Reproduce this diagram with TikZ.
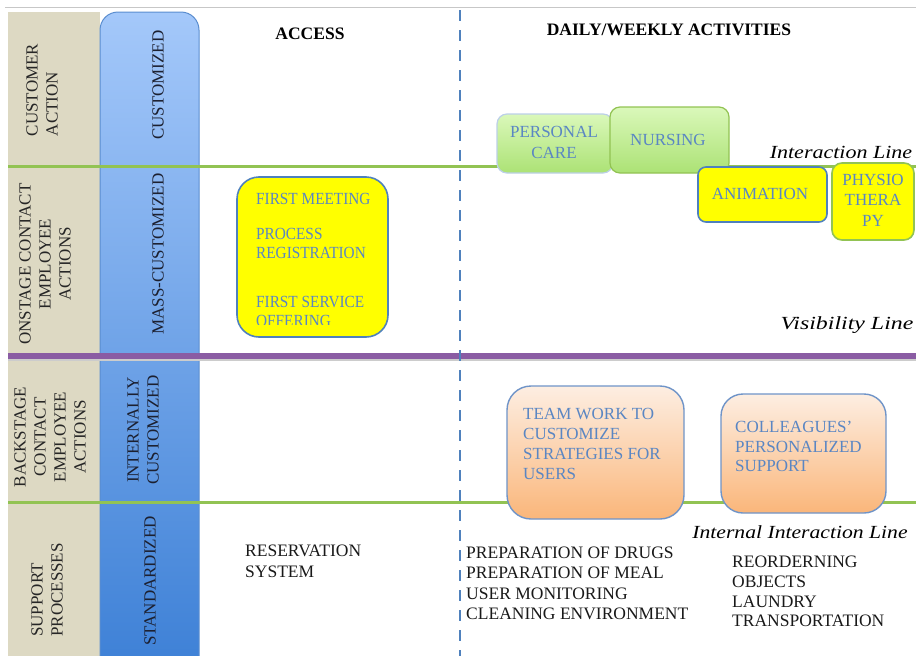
\documentclass[tikz,border=0pt]{standalone}
\usepackage{fontspec}
\setmainfont{Liberation Serif}
\newcommand\setpx[2]{\fontsize{#1}{#2}\selectfont}
\definecolor{beige}{HTML}{DDD9C3}
\definecolor{colTop}{HTML}{A4C8FA}
\definecolor{colBot}{HTML}{3A7ED5}
\definecolor{colEdge}{HTML}{5A8DCF}
\definecolor{lineGreen}{HTML}{92C353}
\definecolor{linePurple}{HTML}{8A5CA3}
\definecolor{dashBlue}{HTML}{4F81BD}
\definecolor{boxEdge}{HTML}{4F81BD}
\definecolor{boxText}{HTML}{5A86C3}
\definecolor{hiYellow}{HTML}{FFFF00}
\definecolor{greenTop}{HTML}{DAF8BA}
\definecolor{greenBot}{HTML}{ACE275}
\definecolor{greenEdge}{HTML}{92C353}
\definecolor{paleEdge}{HTML}{BCD0E8}
\definecolor{peachTop}{HTML}{FDEEE2}
\definecolor{peachBot}{HTML}{FAB67A}
\definecolor{peachEdge}{HTML}{6F94C8}
\begin{document}
\begin{tikzpicture}[x=1pt,y=-1pt,
  rotlbl/.style={rotate=90,inner sep=0pt,text=black!85,font=\setpx{17}{20}},
  collbl/.style={rotate=90,inner sep=0pt,text={rgb,255:red,28;green,32;blue,48},font=\setpx{17}{20}},
  head/.style={inner sep=0pt,font=\bfseries\setpx{17.5}{20}},
  ital/.style={inner sep=0pt,anchor=base,font=\itshape\setpx{18.5}{20}},
  plain/.style={inner sep=0pt,anchor=north west,align=left,text=black!90},
  boxtxt/.style={inner sep=0pt,text=boxText,font=\setpx{17}{20}},
  yellowbox/.style={fill=hiYellow,draw=boxEdge,line width=1.6pt},
  greenbox/.style={top color=greenTop,bottom color=greenBot,line width=1.2pt},
  peachbox/.style={top color=peachTop,bottom color=peachBot,draw=peachEdge,line width=1.4pt},
  sepline/.style={line width=3pt,draw=lineGreen}]
\useasboundingbox (0,0) rectangle (916,656);

% frame line and the two left columns
\draw[line width=1.2pt,black!22] (5,7.5) -- (916,7.5);
\fill[beige] (8,12) rectangle (100,656);
\shadedraw[top color=colTop,bottom color=colBot,draw=colEdge,line width=1pt,
  rounded corners=18pt] (100,690) -- (100,12) -- (199,12) -- (199,690);

% horizontal separator lines
\draw[sepline] (8,166) -- (916,166);
\draw[line width=2pt,black!20] (8,360) -- (916,360);
\draw[line width=6pt,linePurple] (8,355.5) -- (916,355.5);
\draw[sepline] (8,502) -- (916,502);

% column divider
\draw[dashBlue,line width=2.2pt,dash pattern=on 11pt off 9pt] (460,10) -- (460,656);

% row labels
\node[rotlbl,align=left] (lCust) at (42,90) {CUSTOMER\\ACTION};
\node[rotlbl,align=center] (lOn) at (45,264) {ONSTAGE CONTACT\\EMPLOYEE\\ACTIONS};
\node[rotlbl,align=center] (lBack) at (50,437) {BACKSTAGE\\CONTACT\\EMPLOYEE\\ACTIONS};
\node[rotlbl,align=left] (lSup) at (47,590) {SUPPORT\\PROCESSES};

\node[collbl] (cCust) at (158,85) {CUSTOMIZED};
\node[collbl] (cMass) at (158,254) {MASS-CUSTOMIZED};
\node[collbl,align=center] (cInt) at (143,430) {INTERNALLY\\CUSTOMIZED};
\node[collbl] (cStd) at (150,581) {STANDARDIZED};

% column headings
\node[head] (hAccess) at (310,34) {ACCESS};
\node[head] (hDaily) at (669,30) {DAILY/WEEKLY ACTIVITIES};

% access box
\draw[yellowbox,rounded corners=22pt] (237,177) rectangle (388,337);
\begin{scope}
  \clip (237,177) rectangle (388,324);
  \node[boxtxt,anchor=north west,xscale=0.9] (tMeet) at (256,193.4) {FIRST MEETING};
  \node[boxtxt,anchor=north west,align=left,xscale=0.9,font=\setpx{17}{19}] (tProc) at (256,228.4) {PROCESS\\REGISTRATION};
  \node[boxtxt,anchor=north west,align=left,xscale=0.9,font=\setpx{17}{18.5}] (tOffer) at (256,296.4) {FIRST SERVICE\\OFFERING};
\end{scope}

% customer-facing activities
\draw[greenbox,draw=paleEdge,rounded corners=10pt] (497,114) rectangle (613,173);
\draw[greenbox,draw=greenEdge,rounded corners=10pt] (610,107) rectangle (729,173);
\node[boxtxt,align=center,font=\setpx{17}{21}] (tCare) at (554,142.5) {PERSONAL\\CARE};
\node[boxtxt] (tNurse) at (668,140) {NURSING};

\draw[yellowbox,rounded corners=8pt] (698,167) rectangle (827,222);
\node[boxtxt] (tAnim) at (760,194) {ANIMATION};
\draw[yellowbox,draw=greenEdge,rounded corners=10pt] (832,163) rectangle (914,240);
\node[boxtxt,align=center,font=\setpx{17}{20.5}] (tPhys) at (873,200) {PHYSIO\\THERA\\PY};

\node[ital,xscale=1.19] (iInter) at (841,158) {Interaction Line};
\node[ital,xscale=1.29] (iVis) at (847,329) {Visibility Line};

% backstage activities
\draw[peachbox,rounded corners=24pt] (507,386) rectangle (684,519);
\node[boxtxt,anchor=north west,align=left,font=\setpx{17}{20}] (tTeam) at (523,408.4) {TEAM WORK TO\\CUSTOMIZE\\STRATEGIES FOR\\USERS};
\draw[peachbox,rounded corners=22pt] (721,394) rectangle (886,513);
\node[boxtxt,anchor=north west,align=left,font=\setpx{17}{19.3}] (tColl) at (735,421.4) {COLLEAGUES'\\PERSONALIZED\\SUPPORT};

\node[ital,xscale=1.17] (iInt) at (800,538) {Internal Interaction Line};

% support processes
\node[plain,font=\setpx{17.5}{21}] (tRes) at (245,545) {RESERVATION\\SYSTEM};
\node[plain,font=\setpx{17.5}{20.2}] (tPrep) at (466,547) {PREPARATION OF DRUGS\\PREPARATION OF MEAL\\USER MONITORING\\CLEANING ENVIRONMENT};
\node[plain,font=\setpx{17.5}{19.7}] (tReord) at (732,556) {REORDERNING\\OBJECTS\\LAUNDRY\\TRANSPORTATION};
\end{tikzpicture}
\end{document}
